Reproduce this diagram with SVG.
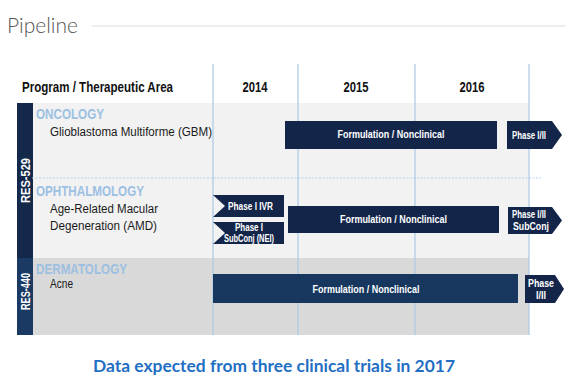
<svg xmlns="http://www.w3.org/2000/svg" width="580" height="389" viewBox="0 0 580 389">
<style>
.nar{font-family:"Liberation Sans Narrow","Liberation Sans",Arial,sans-serif}
.hdr{font-size:14px;font-weight:bold;fill:#111}
.area{font-size:14px;font-weight:bold;fill:#9dc0e2}
.ind{font-family:"Liberation Sans",Arial,sans-serif;font-size:12.5px;fill:#1a1a1a}
.bar{fill:#14254a}
.bar2{fill:#17375e}
.bt{font-size:11.5px;font-weight:bold;fill:#fff}
.st{font-size:10px;font-weight:bold;fill:#fff}
.side{font-family:"Liberation Sans",Arial,sans-serif;font-size:13px;font-weight:bold;fill:#fff}
.grid{stroke:#a9c8e6;stroke-width:1.2}
</style>
<rect width="580" height="389" fill="#fff"/>
<g id="title">
<text x="7" y="33" font-family="Lato,'Open Sans',sans-serif" font-weight="300" font-size="22" fill="#555" textLength="71" lengthAdjust="spacingAndGlyphs">Pipeline</text>
<line x1="92" y1="26" x2="566" y2="26" stroke="#e8e8e8" stroke-width="1.5"/>
</g>
<g id="background">
<rect x="32" y="103" width="497" height="155" fill="#f2f2f2"/>
<rect x="32" y="258" width="497" height="77" fill="#d9d9d9"/>
<rect x="17" y="103" width="16" height="155" fill="#14284a"/>
<rect x="17" y="258" width="16" height="77" fill="#1b3a63"/>
<line x1="32" y1="178" x2="541" y2="178" stroke="#b7d0ea" stroke-width="1.2" stroke-dasharray="2 1.5"/>
</g>
<g id="grid">
<line class="grid" x1="213" y1="64" x2="213" y2="335"/>
<line class="grid" x1="298" y1="64" x2="298" y2="335"/>
<line class="grid" x1="415" y1="64" x2="415" y2="335"/>
<line class="grid" x1="529" y1="64" x2="529" y2="335"/>
</g>
<g id="header">
<text class="nar hdr" x="22" y="92" textLength="151" lengthAdjust="spacingAndGlyphs">Program / Therapeutic Area</text>
<text class="nar hdr" x="255" y="92" text-anchor="middle" textLength="25" lengthAdjust="spacingAndGlyphs">2014</text>
<text class="nar hdr" x="356" y="92" text-anchor="middle" textLength="25" lengthAdjust="spacingAndGlyphs">2015</text>
<text class="nar hdr" x="472" y="92" text-anchor="middle" textLength="25" lengthAdjust="spacingAndGlyphs">2016</text>
</g>
<g id="res529">
<text class="side" transform="translate(29.5,180.5) rotate(-90)" text-anchor="middle" textLength="45" lengthAdjust="spacingAndGlyphs">RES-529</text>
</g>
<g id="res440">
<text class="side" transform="translate(29.5,291.5) rotate(-90)" text-anchor="middle" textLength="37" lengthAdjust="spacingAndGlyphs">RES-440</text>
</g>
<g id="oncology">
<text class="nar area" x="36" y="119" textLength="68" lengthAdjust="spacingAndGlyphs">ONCOLOGY</text>
<text class="ind" x="50" y="136" textLength="162" lengthAdjust="spacingAndGlyphs">Glioblastoma Multiforme (GBM)</text>
</g>
<g id="ophthalmology">
<text class="nar area" x="36" y="196" textLength="108" lengthAdjust="spacingAndGlyphs">OPHTHALMOLOGY</text>
<text class="ind" x="50" y="213" textLength="108" lengthAdjust="spacingAndGlyphs">Age-Related Macular</text>
<text class="ind" x="50" y="230" textLength="107" lengthAdjust="spacingAndGlyphs">Degeneration (AMD)</text>
</g>
<g id="dermatology">
<text class="nar area" x="36" y="274" textLength="91" lengthAdjust="spacingAndGlyphs">DERMATOLOGY</text>
<text class="ind" x="50" y="288" font-size="11.5" textLength="23" lengthAdjust="spacingAndGlyphs">Acne</text>
</g>
<g id="gbm-formulation">
<rect class="bar" x="285" y="121" width="212" height="28"/>
<text class="nar bt" x="391" y="138" text-anchor="middle" textLength="107" lengthAdjust="spacingAndGlyphs">Formulation / Nonclinical</text>
</g>
<g id="gbm-phase12">
<polygon class="bar" points="507,121 552,121 562,135 552,149 507,149"/>
<text class="nar st" x="512" y="139" font-size="11" textLength="34" lengthAdjust="spacingAndGlyphs">Phase I/II</text>
</g>
<g id="amd-phase1-ivr">
<polygon class="bar" points="213,195 284,195 284,217 213,217 225,206"/>
<text class="nar st" x="250.5" y="210" text-anchor="middle" textLength="45" lengthAdjust="spacingAndGlyphs">Phase I IVR</text>
</g>
<g id="amd-phase1-subconj">
<polygon class="bar" points="213,222 284,222 284,244 213,244 225,233"/>
<text class="nar st" x="249" y="231" text-anchor="middle" textLength="28" lengthAdjust="spacingAndGlyphs">Phase I</text>
<text class="nar st" x="249" y="242" text-anchor="middle" textLength="50" lengthAdjust="spacingAndGlyphs">SubConj (NEI)</text>
</g>
<g id="amd-formulation">
<rect class="bar" x="288" y="206" width="211" height="27"/>
<text class="nar bt" x="393.5" y="223" text-anchor="middle" textLength="107" lengthAdjust="spacingAndGlyphs">Formulation / Nonclinical</text>
</g>
<g id="amd-phase12">
<polygon class="bar" points="508,207 552,207 562,220.5 552,234 508,234"/>
<text class="nar st" x="512" y="218" font-size="11" textLength="34" lengthAdjust="spacingAndGlyphs">Phase I/II</text>
<text class="nar st" x="513" y="230" font-size="11" textLength="36" lengthAdjust="spacingAndGlyphs">SubConj</text>
</g>
<g id="acne-formulation">
<rect class="bar2" x="213" y="274" width="305" height="29"/>
<text class="nar bt" x="366" y="293" text-anchor="middle" textLength="107" lengthAdjust="spacingAndGlyphs">Formulation / Nonclinical</text>
</g>
<g id="acne-phase12">
<polygon class="bar" points="525,275 555,275 564,289 555,303 525,303"/>
<text class="nar st" x="541" y="287" text-anchor="middle" font-size="11" textLength="26" lengthAdjust="spacingAndGlyphs">Phase</text>
<text class="nar st" x="541" y="299" text-anchor="middle" font-size="11" textLength="10" lengthAdjust="spacingAndGlyphs">I/II</text>
</g>
<g id="footer">
<text x="274" y="372" text-anchor="middle" font-family="Lato,'Open Sans',sans-serif" font-weight="bold" font-size="17" fill="#1f6fc4" textLength="362" lengthAdjust="spacingAndGlyphs">Data expected from three clinical trials in 2017</text>
</g>
</svg>
